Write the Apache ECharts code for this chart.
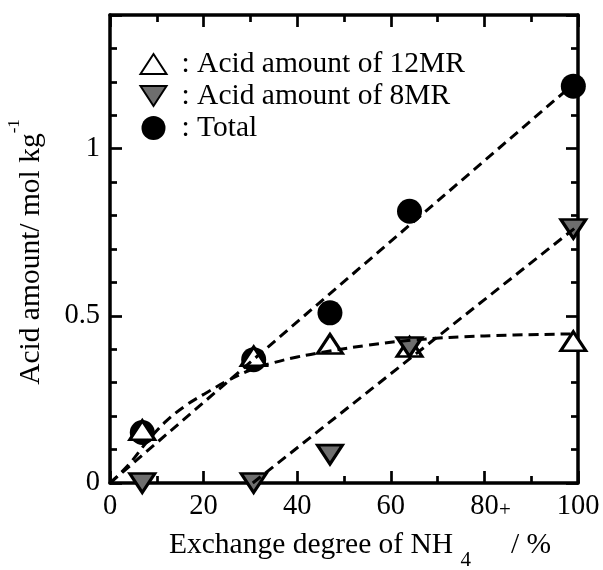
<!DOCTYPE html>
<html>
<head>
<meta charset="utf-8">
<script src="https://cdn.jsdelivr.net/npm/echarts@6/dist/echarts.min.js"></script>
<style>html,body{margin:0;padding:0;background:#fff;}#c{width:603px;height:570px;}</style>
</head>
<body>
<div id="c"></div>
<script>
// ---- data ----
const exchange = [6.9, 30.7, 47, 64, 99];
const acid12MR = [0.158, 0.379, 0.416, 0.407, 0.424];
const acid8MR = [0, 0, 0.085, 0.407, 0.76];
const acidTotal = [0.151, 0.369, 0.509, 0.813, 1.187];
// dashed guide lines
const fitTotalX = [0, 99];
const fitTotalY = [0, 1.193];
const fit8X = [30.5, 100];
const fit8Y = [0, 0.77];
const fit12X = [0, 4, 8, 12, 16, 20, 25, 30, 35, 40, 47, 55, 65, 80, 99.5];
const fit12Y = [0, 0.055, 0.125, 0.185, 0.23, 0.265, 0.305, 0.338, 0.36, 0.377, 0.395, 0.412, 0.428, 0.44, 0.446];
const xTickLabels = ['0', '20', '40', '60', '80', '100'];
const yTickLabels = ['0', '0.5', '1'];
const seriesNames = [': Acid amount of 12MR', ': Acid amount of 8MR', ': Total'];

const pairs = (xs, ys) => xs.map((x, i) => [x, ys[i]]);
const FONT = "'Liberation Serif', 'Times New Roman', Times, serif";
const UP = 'path://M0,-10L13,10L-13,10Z';
const DOWN = 'path://M0,10L13,-10L-13,-10Z';

function axisX(pos, showLabel) {
  return {
    type: 'value', position: pos, min: 0, max: 100, interval: 20,
    axisLine: { show: true, onZero: false, lineStyle: { color: '#000', width: 3.5 } },
    axisTick: { show: true, inside: true, length: 12, lineStyle: { color: '#000', width: 2.7 } },
    minorTick: { show: true, splitNumber: 2, length: 7, lineStyle: { color: '#000', width: 2.7 } },
    splitLine: { show: false },
    axisLabel: {
      show: showLabel, margin: 9, fontFamily: FONT, fontSize: 28.5, color: '#000',
      formatter: v => xTickLabels[Math.round(v / 20)] ?? ''
    }
  };
}
function axisY(pos, showLabel) {
  return {
    type: 'value', position: pos, min: 0, max: 1.4, interval: 0.5,
    axisLine: { show: true, onZero: false, lineStyle: { color: '#000', width: 3.5 } },
    axisTick: { show: true, inside: true, length: 12, lineStyle: { color: '#000', width: 2.7 } },
    minorTick: { show: true, splitNumber: 5, length: 7, lineStyle: { color: '#000', width: 2.7 } },
    splitLine: { show: false },
    axisLabel: {
      show: showLabel, margin: 10, fontFamily: FONT, fontSize: 28.5, color: '#000', showMaxLabel: false,
      formatter: v => { const i = Math.round(v / 0.5); return Math.abs(v - i * 0.5) < 1e-6 ? (yTickLabels[i] ?? '') : ''; }
    }
  };
}

const xb = axisX('bottom', true);
xb.name = '{m|Exchange degree of NH }{sub|4}{sup|+}{m|/ %}';
xb.nameLocation = 'middle';
xb.nameGap = 17;
xb.nameMoveOverlap = false;
xb.nameTextStyle = {
  padding: [0, 0, 0, 32],
  rich: {
    m: { fontFamily: FONT, fontSize: 29.5, color: '#000' },
    sub: { fontFamily: FONT, fontSize: 21, color: '#000', padding: [30, 0, 0, 0] },
    sup: { fontFamily: FONT, fontSize: 21, color: '#000', padding: [0, 0, 70, 28] }
  }
};
const yl = axisY('left', true);
yl.name = '{m|Acid amount/ mol kg}{sup|-1}';
yl.nameLocation = 'middle';
yl.nameRotate = 90;
yl.nameGap = 53;
yl.nameMoveOverlap = false;
yl.nameTextStyle = {
  padding: [0, 6, 0, 0],
  rich: {
    m: { fontFamily: FONT, fontSize: 29.5, color: '#000' },
    sup: { fontFamily: FONT, fontSize: 17, color: '#000', padding: [0, 0, 34, 0] }
  }
};

const dash = { color: '#000', width: 3, type: [10, 6], opacity: 1 };

const option = {
  animation: false,
  backgroundColor: '#fff',
  grid: { left: 110, right: 25, top: 15, bottom: 87, containLabel: false, outerBoundsMode: 'none' },
  xAxis: [xb, axisX('top', false)],
  yAxis: [yl, axisY('right', false)],
  legend: {
    orient: 'vertical', left: 139.5, top: 49, padding: 0,
    itemWidth: 26, itemHeight: 24, itemGap: 2,
    data: [seriesNames[0], seriesNames[1], seriesNames[2]],
    textStyle: { fontFamily: FONT, fontSize: 29.5, color: '#000', lineHeight: 28, padding: [0, 0, 0, 10] }
  },
  series: [
    {
      name: seriesNames[2], type: 'scatter', z: 2,
      symbol: 'circle', symbolSize: 25,
      itemStyle: { color: '#000', opacity: 1 },
      data: pairs(exchange, acidTotal)
    },
    {
      name: seriesNames[0], type: 'scatter', z: 3,
      symbol: UP, symbolSize: [25, 19],
      itemStyle: { color: '#fff', borderColor: '#000', borderWidth: 3, opacity: 1 },
      data: pairs(exchange, acid12MR)
    },
    {
      name: seriesNames[1], type: 'scatter', z: 4,
      symbol: DOWN, symbolSize: [25, 19],
      itemStyle: { color: '#6e6e6e', borderColor: '#000', borderWidth: 3, opacity: 1 },
      data: pairs(exchange, acid8MR)
    },
    {
      type: 'line', z: 5, silent: true, showSymbol: false, symbol: 'none',
      lineStyle: dash, data: pairs(fitTotalX, fitTotalY)
    },
    {
      type: 'line', z: 5, silent: true, showSymbol: false, symbol: 'none',
      lineStyle: dash, data: pairs(fit8X, fit8Y)
    },
    {
      type: 'line', z: 5, silent: true, showSymbol: false, symbol: 'none', smooth: 0.4,
      lineStyle: dash, data: pairs(fit12X, fit12Y)
    }
  ]
};
const chart = echarts.init(document.getElementById('c'), null, { renderer: 'canvas' });
chart.setOption(option);
</script>
</body>
</html>
